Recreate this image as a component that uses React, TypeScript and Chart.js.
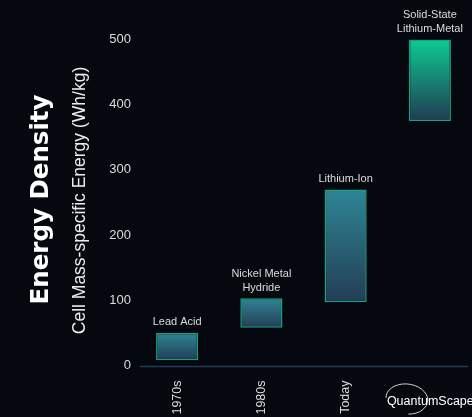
import React, { useEffect, useRef } from 'react';
import { Chart, registerables } from 'chart.js';

Chart.register(...registerables);

const categories = ['1970s', '1980s', 'Today', 'QuantumScape'];
const chemistryLabels = [['Lead Acid'], ['Nickel Metal', 'Hydride'], ['Lithium-Ion'], ['Solid-State', 'Lithium-Metal']];
const lowValues = [8, 58, 97, 375];
const highValues = [50, 103, 270, 500];
const yMin = 0;
const yMax = 500;
const yStep = 100;
const mainTitle = 'Energy Density';
const axisTitle = 'Cell Mass-specific Energy (Wh/kg)';
const logoText = 'QuantumScape';

const BG = '#05090f';

const overlayPlugin = {
  id: 'overlay',
  beforeDraw(chart: any) {
    const ctx = chart.ctx;
    ctx.save();
    ctx.fillStyle = BG;
    ctx.fillRect(0, 0, chart.width, chart.height);
    ctx.restore();
  },
  afterDraw(chart: any) {
    const ctx = chart.ctx;
    const area = chart.chartArea;
    const ys = chart.scales.y;
    const meta = chart.getDatasetMeta(0);
    const midY = (area.top + area.bottom) / 2;
    ctx.save();
    // axis line
    ctx.strokeStyle = '#1d3c57';
    ctx.lineWidth = 1.5;
    ctx.beginPath();
    ctx.moveTo(140, area.bottom + 1);
    ctx.lineTo(468, area.bottom + 1);
    ctx.stroke();

    // titles
    ctx.fillStyle = '#ffffff';
    ctx.textAlign = 'center';
    ctx.textBaseline = 'middle';
    ctx.save();
    ctx.translate(42, midY - 3);
    ctx.rotate(-Math.PI / 2);
    ctx.font = 'bold 24.5px "DejaVu Sans"';
    ctx.fillText(mainTitle, 0, 0);
    ctx.restore();
    ctx.save();
    ctx.translate(80, midY - 2);
    ctx.rotate(-Math.PI / 2);
    ctx.fillStyle = '#ececec';
    ctx.font = '17.5px "Liberation Sans"';
    ctx.fillText(axisTitle, 0, 0);
    ctx.restore();

    // bar labels
    ctx.fillStyle = '#dcdcdc';
    ctx.font = '11px "Liberation Sans"';
    meta.data.forEach((bar: any, i: number) => {
      const top = ys.getPixelForValue(highValues[i]);
      const lines = chemistryLabels[i];
      lines.forEach((line, j) => {
        const y = top - 10.5 - (lines.length - 1 - j) * 14;
        ctx.fillText(line, bar.x, y);
      });
    });

    // logo in place of last category label
    const lx = meta.data[3].x;
    ctx.strokeStyle = '#cfcfcf';
    ctx.lineWidth = 1;
    ctx.beginPath();
    ctx.ellipse(lx - 23, 399, 21, 15, 0.12, Math.PI * 0.97, Math.PI * 2.45);
    ctx.stroke();
    ctx.fillStyle = '#ffffff';
    ctx.textAlign = 'left';
    ctx.textBaseline = 'alphabetic';
    ctx.font = '12.5px "Liberation Sans"';
    ctx.fillText(logoText, lx - 43, 405);
    ctx.restore();
  },
};

export default function App() {
  const canvasRef = useRef<HTMLCanvasElement | null>(null);

  useEffect(() => {
    document.body.style.margin = '0';
    document.body.style.background = BG;
    const canvas = canvasRef.current;
    if (!canvas) return;
    const data = lowValues.map((lo, i) => [lo, highValues[i]]);
    const chart = new Chart(canvas, {
      type: 'bar',
      data: {
        labels: categories,
        datasets: [
          {
            data: data as any,
            backgroundColor: (c: any) => {
              const ch = c.chart;
              const i = c.dataIndex;
              if (!ch.chartArea || i === undefined || !ch.scales.y) return '#2e8292';
              const ys = ch.scales.y;
              const top = ys.getPixelForValue(highValues[i]);
              const bot = ys.getPixelForValue(lowValues[i]);
              const g = ch.ctx.createLinearGradient(0, top, 0, bot);
              if (i === 3) {
                g.addColorStop(0, '#0ccb92');
                g.addColorStop(1, '#213b53');
              } else {
                g.addColorStop(0, '#2f8595');
                g.addColorStop(1, '#233d55');
              }
              return g;
            },
            borderColor: '#1f9e7f',
            borderWidth: 1.5,
            borderSkipped: false,
            categoryPercentage: 1,
            barPercentage: 0.5,
          },
        ],
      },
      options: {
        animation: false,
        responsive: true,
        maintainAspectRatio: false,
        layout: { padding: { top: 39.5, right: 0, left: 0, bottom: 0 } },
        plugins: { legend: { display: false }, tooltip: { enabled: false }, title: { display: false } },
        scales: {
          x: {
            grid: { display: false, drawTicks: false },
            border: { display: false },
            ticks: {
              color: '#dcdcdc',
              font: { family: '"Liberation Sans"', size: 12.5 },
              minRotation: 90,
              maxRotation: 90,
              padding: 15,
              autoSkip: false,
              callback: (v: any, i: number) => (i === 3 ? '' : categories[i]),
            },
            afterFit: (s: any) => {
              s.height = 51.5;
            },
          },
          y: {
            min: yMin,
            max: yMax,
            grid: { display: false, drawTicks: false },
            border: { display: false },
            ticks: {
              stepSize: yStep,
              color: '#dcdcdc',
              font: { family: '"Liberation Sans"', size: 13 },
              padding: 4,
            },
            afterFit: (s: any) => {
              s.width = 135;
            },
          },
        },
      },
      plugins: [overlayPlugin],
    });
    return () => chart.destroy();
  }, []);

  return (
    <div style={{ position: 'fixed', left: 0, top: 0, width: 472, height: 417, background: BG }}>
      <canvas ref={canvasRef} />
    </div>
  );
}
